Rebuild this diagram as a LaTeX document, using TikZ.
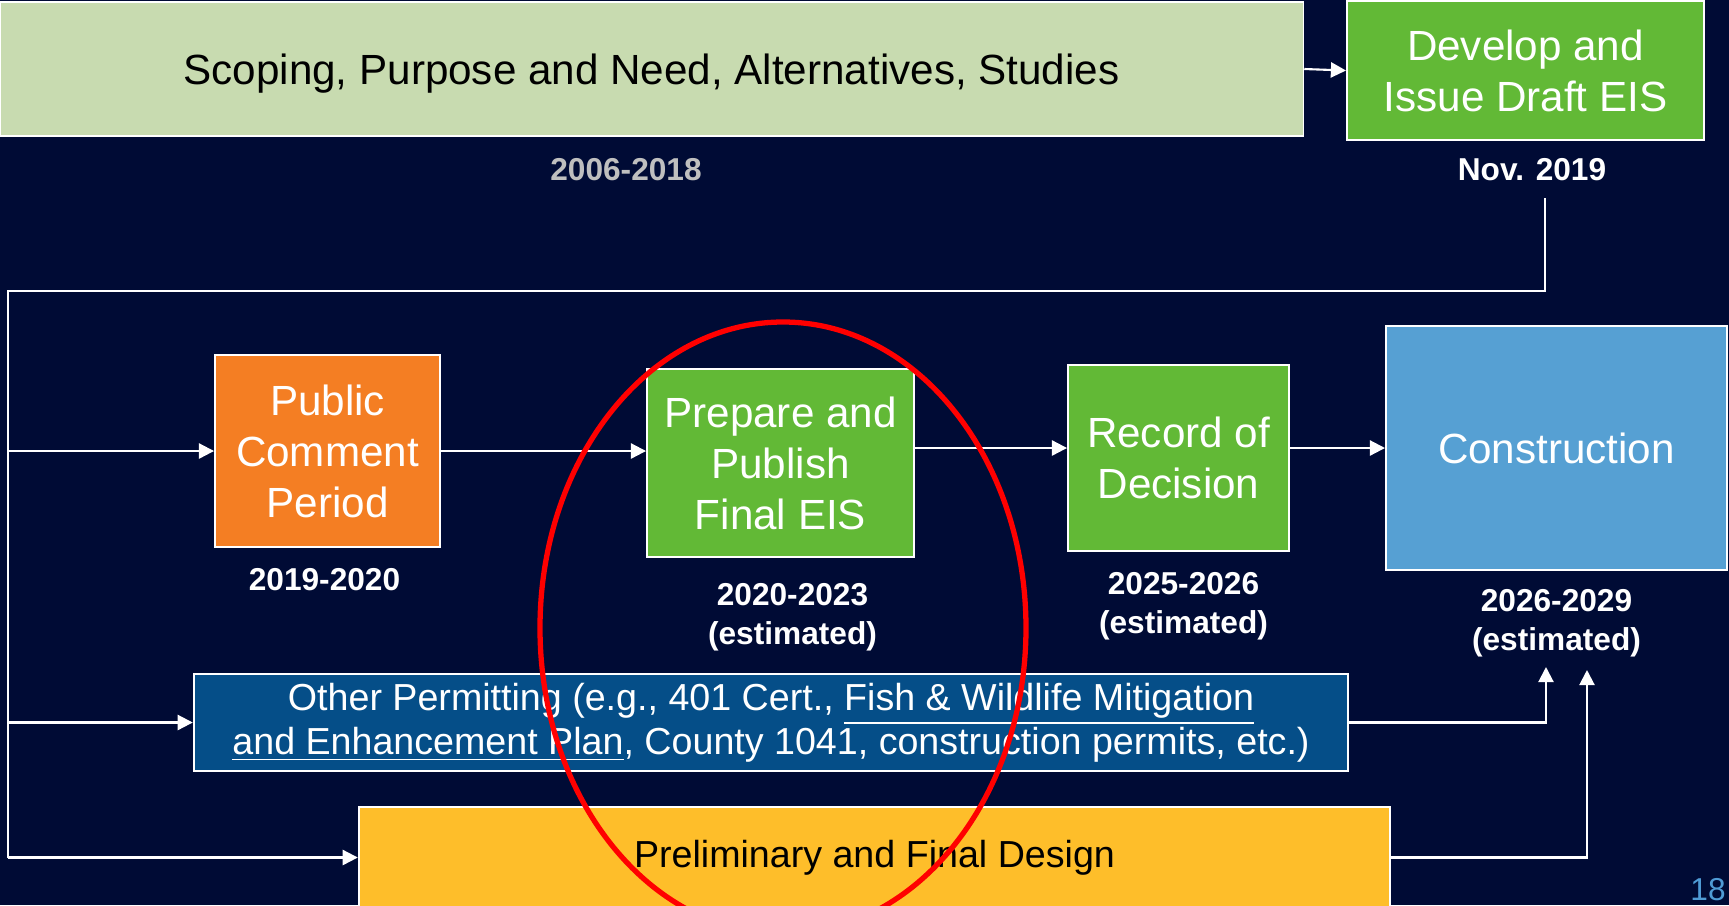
\documentclass[tikz,border=0pt]{standalone}
\usepackage{fontspec}
\setmainfont{Liberation Sans}
\usepackage{tikz}
\usetikzlibrary{positioning,arrows.meta}

\definecolor{navy}{RGB}{0,11,53}
\definecolor{sage}{RGB}{200,219,176}
\definecolor{leaf}{RGB}{98,185,54}
\definecolor{amber}{RGB}{244,126,35}
\definecolor{sky}{RGB}{86,160,211}
\definecolor{ocean}{RGB}{5,78,136}
\definecolor{gold}{RGB}{254,190,42}
\definecolor{pagenum}{RGB}{79,155,213}

\begin{document}
\begin{tikzpicture}[x=0.01cm,y=-0.01cm
			,box/.style={draw=white, line width=0.5pt, inner sep=0pt, align=center, font=\fontsize{12}{14.5}\selectfont, text=white}
			,g/.style={box, fill=leaf}
			,when/.style={font=\bfseries\fontsize{9}{10.9}\selectfont, text=white, align=center, inner sep=0pt}
			,wire/.style={draw=white, line width=0.6pt}
			,arr/.style={wire, -{Triangle[length=4.3pt,width=4.3pt]}}
		]
	\useasboundingbox (0,0) rectangle (1729,905);
	\clip (0,0) rectangle (1729,905);
	\fill[navy] (0,0) rectangle (1729,905);

	% top row
	\node [box, fill=sage, text=black, minimum width=13.03cm, minimum height=1.34cm, text depth=-0.08cm] (scope) at (651.5,69) {Scoping, Purpose and Need, Alternatives, Studies};
	\node [g, minimum width=3.57cm, minimum height=1.39cm] (draft) at (1525.5,70.5) {Develop and\\Issue Draft EIS};
	\node [when, text=black!25] (scopedate) at (626,170) {2006-2018};
	\node [when] (nov) at (1532,170) {Nov. 2019};

	% middle row
	\node [box, fill=amber, minimum width=2.25cm, minimum height=1.92cm] (pub) at (327.5,451) {Public\\Comment\\Period};
	\node [g, minimum width=2.67cm, minimum height=1.88cm] (final) at (780.5,463) {Prepare and\\Publish\\Final EIS};
	\node [g, minimum width=2.21cm, minimum height=1.86cm] (rod) at (1178.5,458) {Record of\\Decision};
	\node [box, fill=sky, minimum width=3.41cm, minimum height=2.44cm] (cons) at (1556.5,448) {Construction};
	\node [when, below=0.2cm of pub, xshift=-0.03cm] (pubdate) {2019-2020};
	\node [when, below=0.25cm of final, xshift=0.12cm] (finaldate) {2020-2023\\(estimated)};
	\node [when, below=0.2cm of rod, xshift=0.05cm] (roddate) {2025-2026\\(estimated)};
	\node [when, below=0.18cm of cons] (consdate) {2026-2029\\(estimated)};

	% bottom bars
	\node [box, fill=ocean, minimum width=11.54cm, minimum height=0.97cm, font=\fontsize{10.7}{12.5}\selectfont] (perm) at (771,722.5) {Other Permitting (e.g., 401 Cert., \underline{Fish \& Wildlife Mitigation}\\\underline{and Enhancement Plan}, County 1041, construction permits, etc.)};
	\node [box, fill=gold, text=black, minimum width=10.31cm, minimum height=1.01cm, font=\fontsize{10.7}{12.5}\selectfont] (design) at (874.5,857.5) {Preliminary and Final Design};
	\node [text=pagenum, font=\fontsize{9}{10}\selectfont, inner sep=0pt] (page) at (1708,890) {18};

	% connectors
	\coordinate (drop) at (1545,198);
	\coordinate (bus) at (8,291);
	\coordinate (up1) at (1546,667);
	\coordinate (up2) at (1587,670);
	\draw [arr] (scope.east) -- (draft.west);
	\draw [wire] (drop) |- (bus) -- (bus |- design.west);
	\draw [arr] (bus |- pub.west) -- (pub.west);
	\draw [arr] (bus |- perm.west) -- (perm.west);
	\draw [arr] (bus |- design.west) -- (design.west);
	\draw [arr] (pub.east) -- (pub.east -| final.west);
	\draw [arr] (cons.west -| final.east) -- (cons.west -| rod.west);
	\draw [arr] (rod.east |- cons.west) -- (cons.west);
	\draw [arr] (perm.east) -| (up1);
	\draw [arr] (design.east) -| (up2);

	% highlight
	\draw [red, line width=1.5pt] (783,628) ellipse [x radius=243, y radius=306];
\end{tikzpicture}
\end{document}
